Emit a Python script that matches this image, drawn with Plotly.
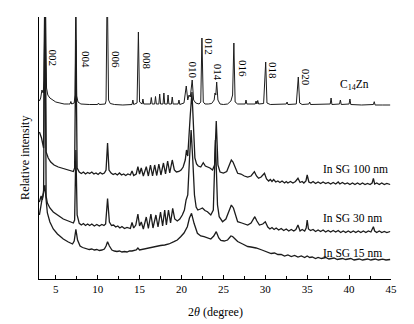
import plotly.graph_objects as go

# ---------------- data (2θ in degrees, stacked relative intensity in a.u.) ----------------
tt_c14zn = [3.05, 3.2, 3.35, 3.5, 3.6, 3.75, 3.9, 4.05, 4.3, 4.6, 5.0, 5.5, 6.0, 6.5, 6.7, 6.8, 6.9,
            7.2, 7.3, 7.4, 7.5, 7.65, 8.0, 9.0, 10.0, 10.1, 10.2, 10.9, 11.0, 11.14, 11.3, 11.5,
            12.0, 13.0, 14.1, 14.2, 14.3, 14.7, 14.86, 15.0, 15.3, 15.4, 15.5, 16.3, 16.4, 16.5,
            16.8, 16.9, 17.0, 17.3, 17.4, 17.5, 17.8, 17.9, 18.0, 18.3, 18.4, 18.5, 18.8, 18.9,
            19.0, 19.6, 19.7, 19.8, 20.3, 20.57, 20.75, 20.9, 21.05, 21.28, 21.45, 21.7, 22.1,
            22.3, 22.44, 22.6, 22.8, 23.2, 23.6, 23.9, 24.0, 24.1, 24.2, 24.35, 24.6, 25.0, 25.5,
            25.9, 26.1, 26.25, 26.4, 26.7, 27.6, 27.7, 27.8, 28.8, 28.9, 29.0, 29.1, 29.2, 29.8,
            30.05, 30.2, 30.6, 31.5, 32.5, 32.6, 32.7, 33.7, 33.94, 34.1, 34.4, 35.2, 35.3, 35.4,
            36.5, 37.75, 37.85, 37.95, 38.86, 38.96, 39.06, 40.0, 40.1, 40.2, 41.5, 42.9, 43.0,
            43.1, 44.0, 44.9]
int_c14zn = [178, 181, 189, 186, 199, 300, 191, 184, 181, 179, 177, 176, 175, 175, 175, 177.5, 175,
             176, 184, 300, 183, 177, 175, 174.5, 174.5, 176, 174.5, 175, 178, 300, 179, 175.5,
             174.5, 174, 174.5, 179, 174.5, 176, 247, 177, 175, 180, 175, 175, 181.5, 175,
             175, 182.5, 175, 175, 185, 175, 175, 186, 175, 175, 184, 175, 175, 182,
             175, 175, 179, 174.5, 176, 193, 179, 184, 182, 199, 179, 176, 175,
             177, 241, 177, 175, 175, 175.5, 179, 186, 184, 197, 179, 175, 174.5, 175,
             178, 184, 236, 177, 175, 175, 179, 175, 175, 178, 175, 178.5, 175, 175.5,
             217, 176, 174.5, 174.5, 175, 177, 174.5, 175, 202, 176, 174.5, 175, 177, 174.5,
             174.5, 175, 181, 174.5, 175, 179, 174.5, 175, 180, 174.5, 174, 174.5, 177.3,
             174, 174, 174]

tt_sg100 = [3.05, 3.3, 3.55, 3.7, 3.85, 4.1, 4.4, 4.8, 5.3, 5.9, 6.5, 7.1, 7.25, 7.4, 7.55, 7.8,
            8.05, 8.3, 8.55, 8.8, 9.05, 9.3, 9.55, 9.8, 10.05, 10.3, 10.55, 10.8, 11.0, 11.18,
            11.35, 11.6, 11.85, 12.1, 12.35, 12.6, 12.85, 13.1, 13.35, 13.6, 13.9, 14.1, 14.3,
            14.6, 14.8, 15.0, 15.2, 15.45, 15.8, 16.05, 16.3, 16.55, 16.8, 17.05, 17.3, 17.55,
            17.85, 18.1, 18.35, 18.6, 18.9, 19.15, 19.4, 19.7, 19.95, 20.2, 20.45, 20.6, 20.75,
            20.9, 21.05, 21.25, 21.45, 21.6, 21.8, 22.0, 22.3, 22.6, 22.85, 23.1, 23.4, 23.7,
            23.95, 24.15, 24.35, 24.6, 25.0, 25.4, 25.7, 25.95, 26.15, 26.4, 26.7, 27.1, 27.5,
            27.9, 28.3, 28.7, 28.95, 29.2, 29.5, 29.9, 30.15, 30.4, 30.6, 30.8, 31.0, 31.25, 31.5,
            31.75, 32.0, 32.3, 32.5, 32.7, 33.0, 33.3, 33.6, 33.9, 34.15, 34.4, 34.6, 34.85, 35.0,
            35.2, 35.45, 35.7, 36.0, 36.3, 36.6, 36.9, 37.2, 37.5, 37.8, 38.1, 38.4, 38.7, 38.9,
            39.2, 39.5, 39.8, 40.1, 40.4, 40.7, 41.0, 41.3, 41.6, 41.9, 42.2, 42.5, 42.75, 42.9,
            43.05, 43.3, 43.6, 43.9, 44.2, 44.5, 44.9]
int_sg100 = [147, 141, 131, 300, 127, 121, 117, 114, 112, 110.5, 109, 107.5, 111, 239, 111, 107,
             105.5, 107, 105, 106.5, 105.5, 107, 105, 106, 104.5, 106.5, 105, 106, 109, 136,
             109, 106, 104.5, 105.5, 104, 106, 104, 105, 103.5, 105, 104, 108, 103.5,
             105, 112.3, 105, 111, 103, 112.3, 103, 114, 103, 114, 103.5, 115, 104,
             116, 105, 118, 106, 119, 109, 107, 107.5, 109, 112, 119, 129, 123,
             139, 164, 187, 139, 121, 115, 113, 112, 116.3, 113, 112.3, 111, 109,
             114, 158, 114, 107, 106, 107.5, 113, 119, 117, 111, 105.7, 105, 103,
             102, 103, 107.3, 103, 100.7, 102, 105.7, 100, 98, 99.5, 97.5, 99.5, 97, 98,
             96.5, 98, 96, 97.5, 96, 97.5, 96, 97.5, 100.7, 96.5, 97.5, 96, 98, 104,
             97, 96, 97.5, 95.5, 97, 95.5, 97, 95.5, 96.5, 95, 96.5, 95, 97, 95,
             96.5, 95, 96, 94.5, 96, 94.5, 96, 94.5, 96, 94.5, 95.5, 94.5, 96, 100.7,
             95, 96, 94.5, 96, 94.5, 95.5, 94.5]

tt_sg30 = [3.05, 3.25, 3.4, 3.55, 3.7, 3.85, 4.0, 4.3, 4.7, 5.2, 5.9, 6.5, 7.1, 7.25, 7.4, 7.55,
           7.8, 8.05, 8.3, 8.55, 8.8, 9.05, 9.3, 9.6, 9.9, 10.2, 10.5, 10.75, 10.95, 11.18, 11.4,
           11.65, 11.9, 12.15, 12.4, 12.65, 12.9, 13.2, 13.5, 13.9, 14.1,
           14.3, 14.55, 14.8, 15.0, 15.2, 15.45, 15.8, 16.05, 16.35, 16.6, 16.95, 17.2, 17.5,
           17.75, 18.0, 18.2, 18.45, 18.7, 18.95, 19.2, 19.5, 19.8, 20.1, 20.35, 20.55, 20.75,
           20.95, 21.15, 21.35, 21.55, 21.75, 21.95, 22.25, 22.5, 22.8, 23.1, 23.5, 23.8, 24.05,
           24.3, 24.5, 24.9, 25.3, 25.6, 25.95, 26.2, 26.45, 26.7, 27.2, 27.6, 27.9, 28.3, 28.75,
           29.0, 29.3, 29.7, 30.0, 30.3, 30.55, 30.8, 31.05, 31.3, 31.6, 31.9, 32.2, 32.5, 32.8,
           33.1, 33.4, 33.65, 33.9, 34.15, 34.4, 34.7, 34.88, 35.0, 35.15, 35.4, 35.7, 36.0,
           36.3, 36.6, 36.9, 37.2, 37.5, 37.8, 38.1, 38.4, 38.7, 39.0, 39.3, 39.6, 39.9, 40.2,
           40.5, 40.8, 41.1, 41.4, 41.7, 42.0, 42.3, 42.6, 42.8, 42.9, 43.05, 43.3, 43.6, 43.9,
           44.2, 44.5, 44.9]
int_sg30 = [77, 83, 79, 89, 300, 83, 76, 71, 67, 64, 60, 58, 56, 59, 129, 64,
            55.7, 54, 55.5, 53.5, 55, 53.5, 55, 53, 54.5, 53, 54.5, 53.5, 55, 80.5, 57,
            53.5, 54, 52, 53, 51, 52.5, 50.5, 51.5, 50.5, 56.5,
            51, 54, 65, 53, 57, 50, 62, 50.5, 65, 51, 64, 52, 67,
            53, 69, 54, 69, 56, 70.7, 60, 58, 60, 64, 69, 79, 84,
            119, 149, 119, 84, 72, 69, 70, 71, 68.5, 67.3, 64, 69, 139,
            74, 62.3, 57.3, 60, 66, 74, 71, 64, 57.3, 56, 55, 54, 56, 62.3,
            58, 54, 55, 57.3, 52, 50, 51.5, 49.5, 51, 49, 50.5, 48.5, 50, 48,
            49.5, 48, 49.5, 54, 48, 49.5, 48, 51, 59, 50, 48.5, 49.5, 47.5,
            49, 47.5, 49, 47, 48.5, 47, 48.5, 47, 48.5, 46.5, 48, 46.5, 48, 46.5,
            48, 46.5, 48, 46.5, 48, 46.5, 48, 47, 50, 52.3, 48, 46.5, 48, 46.5,
            47.5, 46.5, 47.5]

tt_sg15 = [3.05, 3.2, 3.35, 3.5, 3.7, 3.85, 4.0, 4.3, 4.7, 5.2, 5.9, 6.5, 7.0, 7.2, 7.4, 7.6,
           7.9, 8.2, 8.5, 8.8, 9.0, 9.3, 9.6, 9.9, 10.2, 10.5, 10.8, 11.0, 11.18, 11.4, 11.7, 12.0,
           12.3, 12.6, 12.9, 13.2, 13.5, 13.8, 14.1, 14.6,
           14.8, 15.0, 15.5, 16.0, 16.5, 17.0, 17.5, 18.0, 18.5, 19.1, 19.5, 19.9, 20.3, 20.7,
           20.95, 21.2, 21.5, 21.9, 22.3, 22.7, 23.1, 23.5, 23.85, 24.15, 24.45, 24.7, 25.1, 25.5,
           25.9, 26.1, 26.4, 26.7, 27.3, 27.9, 28.3, 28.9, 29.6, 30.3, 30.7, 31.1, 31.5, 31.9,
           32.3, 32.7, 33.1, 33.5, 33.9, 34.3, 34.7, 35.0, 35.3, 35.6, 36.0, 36.3, 36.7, 37.2,
           37.6, 38.2, 38.6, 39.2, 39.6, 40.2, 40.6, 41.2, 41.6, 42.2, 42.6, 43.1, 43.5, 44.0,
           44.4, 44.9]
int_sg15 = [64, 74, 79, 84, 94, 79, 66, 57, 50, 45, 40, 37, 35, 38, 49.7, 39,
            33, 31.5, 31, 30, 29.5, 30, 29, 29.5, 28.5, 29, 30, 33, 37.3, 33, 29, 28,
            27.5, 28, 27, 27.5, 27, 28, 28, 29,
            31, 29, 30, 30.5, 31.5, 32.5, 33.5, 34, 35, 37.3, 39, 42.3, 46, 52.3,
            61, 65.7, 55.7, 45.7, 43, 42.3, 41, 40, 43, 47.3, 41, 38.5, 38, 39,
            43, 42.5, 40, 37.5, 35, 32.5, 32, 31, 29, 27, 25.5, 26, 24.5, 24.5,
            23, 24, 22.5, 23.5, 22, 23, 21.5, 23, 21.5, 22, 20.5, 21.5, 20.5, 21.5,
            20, 21, 19.5, 20.5, 19.5, 20.5, 19, 20, 19, 20, 19, 20, 19, 19.8,
            19, 19.5]

peak_labels = ["002", "004", "006", "008", "010", "012", "014", "016", "018", "020"]
sample_labels = ["C<sub>14</sub>Zn", "In SG 100 nm", "In SG 30 nm", "In SG 15 nm"]
x_ticks = [5, 10, 15, 20, 25, 30, 35, 40, 45]

# ---------------- figure ----------------
SERIF = "Liberation Serif, Times New Roman, serif"
LINE = "#1c1c1c"

fig = go.Figure()
for xs, ys, w in [(tt_c14zn, int_c14zn, 1.0), (tt_sg100, int_sg100, 1.3),
                  (tt_sg30, int_sg30, 1.3), (tt_sg15, int_sg15, 1.3)]:
    fig.add_trace(go.Scatter(x=xs, y=ys, mode="lines", line=dict(color=LINE, width=w),
                             showlegend=False, hoverinfo="skip"))

peak_pos = [(4.64, 220.7), (8.63, 219.7), (12.1, 219.7), (15.9, 218.3), (21.42, 209),
            (23.33, 232.3), (24.44, 206.5), (27.27, 210.7), (31.0, 208.3), (34.86, 202.3)]
for lab, (px, py) in zip(peak_labels, peak_pos):
    fig.add_annotation(x=px, y=py, xref="x", yref="y", text=lab, textangle=90,
                       showarrow=False, xanchor="center", yanchor="middle",
                       font=dict(family=SERIF, size=11, color="black"))

sample_pos = [(40.6, 194), (40.76, 110), (40.45, 60.7), (40.45, 26)]
for lab, (px, py) in zip(sample_labels, sample_pos):
    fig.add_annotation(x=px, y=py, xref="x", yref="y", text=lab, showarrow=False,
                       xanchor="center", yanchor="middle",
                       font=dict(family=SERIF, size=11.5, color="black"))

fig.add_annotation(x=-0.04, y=0.462, xref="paper", yref="paper", text="Relative intensity",
                   textangle=-90, showarrow=False, xanchor="center", yanchor="middle",
                   font=dict(family=SERIF, size=12, color="black"))
fig.add_annotation(x=0.5, y=-0.126, xref="paper", yref="paper", text="2<i>θ</i> (degree)",
                   showarrow=False, xanchor="center", yanchor="middle",
                   font=dict(family=SERIF, size=12, color="black"))

fig.update_layout(
    width=414, height=324, autosize=False,
    margin=dict(l=39, r=23, t=17, b=45),
    paper_bgcolor="white", plot_bgcolor="white",
    xaxis=dict(range=[3, 45], showgrid=False, zeroline=False, showline=True,
               linecolor="black", linewidth=1, ticks="inside", ticklen=4, tickwidth=1,
               tickcolor="black", tickvals=x_ticks,
               tickfont=dict(family=SERIF, size=11, color="black"),
               minor=dict(dtick=2.5, tick0=0, ticks="inside", ticklen=3, tickcolor="black",
                          showgrid=False)),
    yaxis=dict(range=[0, 262], showgrid=False, zeroline=False, showline=True,
               linecolor="black", linewidth=1, ticks="", showticklabels=False),
)

fig.write_html("out.html", config={"displayModeBar": False, "staticPlot": True},
               post_script="document.body.style.margin='0';")
